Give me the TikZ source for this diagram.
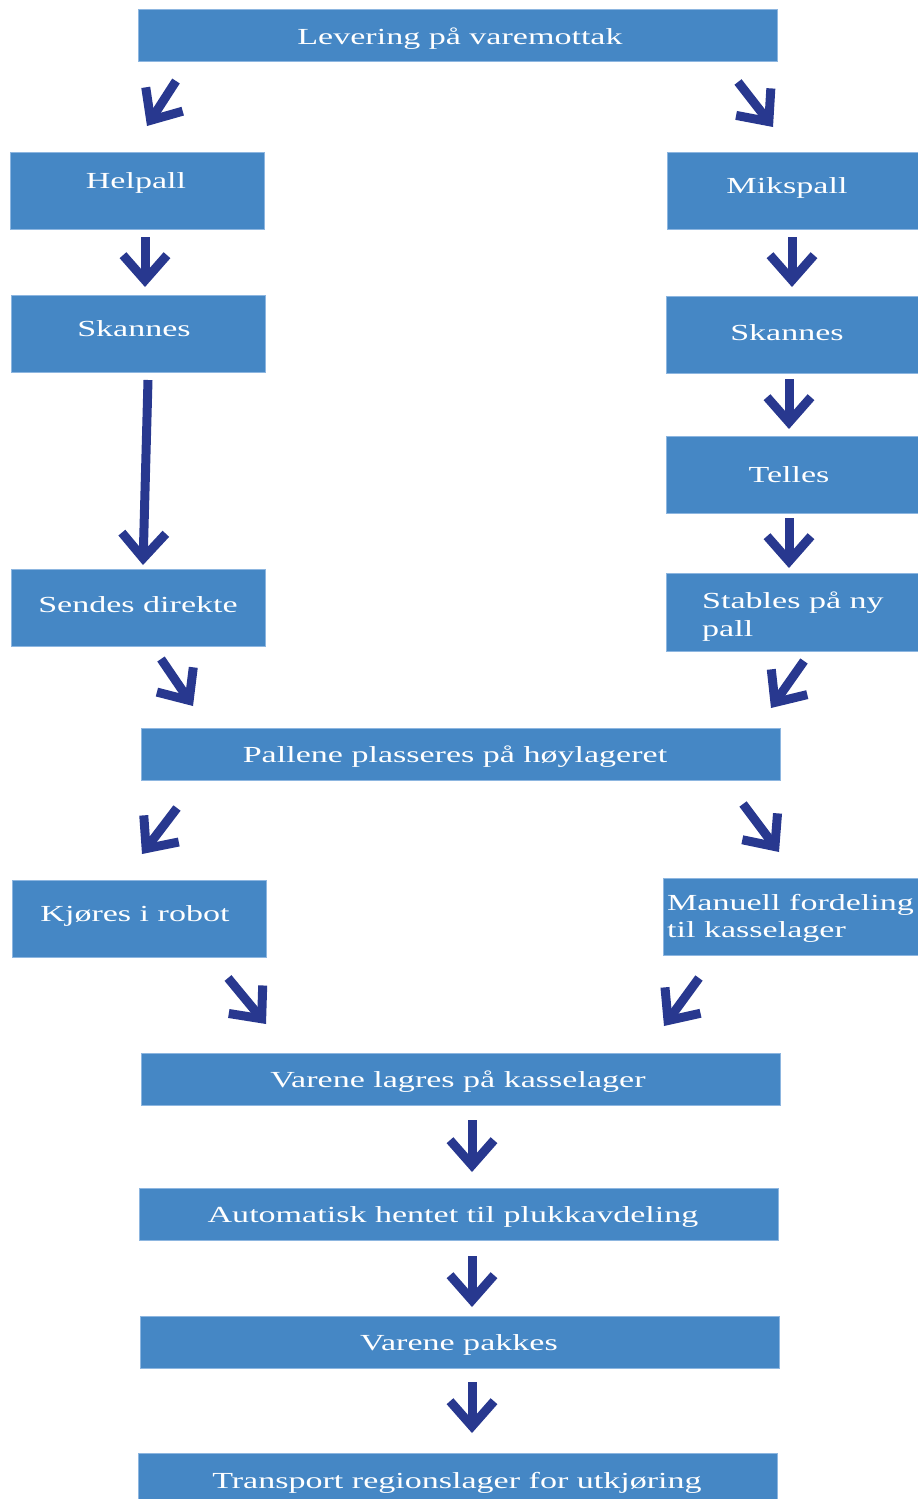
\documentclass[tikz,border=0pt]{standalone}
\usepackage{fontspec}
\usetikzlibrary{arrows.meta}
\newfontfamily\boxfont[FakeStretch=1.48]{Liberation Serif}
\definecolor{boxblue}{HTML}{4587C5}
\definecolor{boxedge}{HTML}{8DB6E0}
\definecolor{arrowblue}{HTML}{28388F}
\tikzset{
  box/.style={fill=boxblue, draw=boxedge, line width=1pt, inner sep=0pt, outer sep=0pt},
  widebox/.style={box, minimum width=639pt, minimum height=52pt},
  sidebox/.style={box, minimum width=254pt, minimum height=77pt},
  label/.style={text=white, inner sep=0pt, font=\boxfont\fontsize{23}{27}\selectfont},
  flow/.style={draw=arrowblue, line width=9pt,
    -{Straight Barb[length=25pt, width=44pt]}}
}
\begin{document}
\begin{tikzpicture}[x=1pt, y=-1pt]
\useasboundingbox (0,0) rectangle (918,1499);
\clip (0,0) rectangle (918,1499);

% process boxes
\node[widebox] (lev) at (457.5,35.5) {};
\node[sidebox] (helpall) at (137,190.5) {};
\node[sidebox, minimum width=252pt] (mikspall) at (793,190.5) {};
\node[sidebox] (skanL) at (138,333.5) {};
\node[sidebox, minimum width=252pt] (skanR) at (792,334.5) {};
\node[sidebox, minimum width=252pt] (telles) at (792,474.5) {};
\node[sidebox] (sendes) at (138,607.5) {};
\node[sidebox, minimum width=252pt, minimum height=78pt] (stables) at (792,612) {};
\node[widebox] (pallene) at (460.5,754) {};
\node[sidebox] (kjores) at (139,918.5) {};
\node[sidebox, minimum width=255pt] (manuell) at (790.5,916.5) {};
\node[widebox] (lagres) at (460.5,1079) {};
\node[widebox] (auto) at (458.5,1214) {};
\node[widebox] (pakkes) at (459.5,1342) {};
\node[widebox] (transport) at (457.5,1479) {};

% box texts
\node[label, anchor=base] (tlev) at (460,44) {Levering på varemottak};
\node[label, anchor=base] (thelpall) at (136,188) {Helpall};
\node[label, anchor=base] (tmikspall) at (787,193) {Mikspall};
\node[label, anchor=base] (tskanL) at (134,336) {Skannes};
\node[label, anchor=base] (tskanR) at (787,340) {Skannes};
\node[label, anchor=base] (ttelles) at (789,482) {Telles};
\node[label, anchor=base] (tsendes) at (138,612) {Sendes direkte};
\node[label, anchor=base west] (tstables1) at (702,608) {Stables på ny};
\node[label, anchor=base west] (tstables2) at (702,636) {pall};
\node[label, anchor=base] (tpallene) at (455,762) {Pallene plasseres på høylageret};
\node[label, anchor=base] (tkjores) at (135,921) {Kjøres i robot};
\node[label, anchor=base west] (tmanuell1) at (667,910) {Manuell fordeling};
\node[label, anchor=base west] (tmanuell2) at (667,937) {til kasselager};
\node[label, anchor=base] (tlagres) at (458,1087) {Varene lagres på kasselager};
\node[label, anchor=base] (tauto) at (453,1222) {Automatisk hentet til plukkavdeling};
\node[label, anchor=base] (tpakkes) at (459,1350) {Varene pakkes};
\node[label, anchor=base] (ttransport) at (457,1488) {Transport regionslager for utkjøring};

% arrow ends
\coordinate (a1s) at (176,81);   \coordinate (a1e) at (147,126);
\coordinate (a2s) at (738,82);   \coordinate (a2e) at (773,127);
\coordinate (a3s) at (145,237);  \coordinate (a3e) at (145,287);
\coordinate (a4s) at (792,237);  \coordinate (a4e) at (792,287);
\coordinate (a5s) at (148,380);  \coordinate (a5e) at (143,565);
\coordinate (a6s) at (789,379);  \coordinate (a6e) at (789,429);
\coordinate (a7s) at (789,518);  \coordinate (a7e) at (789,568);
\coordinate (a8s) at (161,659);  \coordinate (a8e) at (193,706);
\coordinate (a9s) at (804,661);  \coordinate (a9e) at (771,708);
\coordinate (a10s) at (177,808); \coordinate (a10e) at (142,854);
\coordinate (a11s) at (743,804); \coordinate (a11e) at (779,852);
\coordinate (a12s) at (228,978); \coordinate (a12e) at (266,1024);
\coordinate (a13s) at (699,978); \coordinate (a13e) at (664,1026);
\coordinate (a14s) at (472,1120); \coordinate (a14e) at (472,1172);
\coordinate (a15s) at (472,1256); \coordinate (a15e) at (472,1307);
\coordinate (a16s) at (472,1382); \coordinate (a16e) at (472,1433);

% flow arrows
\foreach \i in {1,...,16} {
  \draw[flow] (a\i s) -- (a\i e);
}
\end{tikzpicture}
\end{document}
